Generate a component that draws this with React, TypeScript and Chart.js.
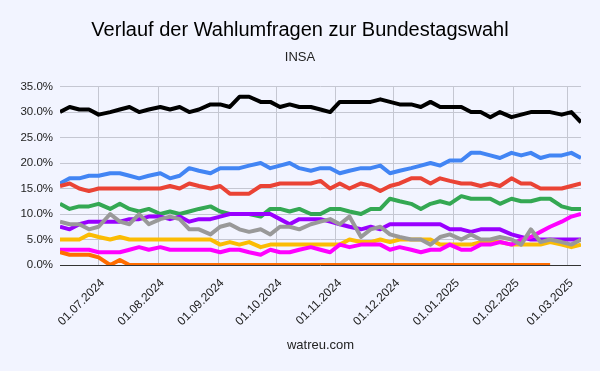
import { useEffect, useRef } from "react";
import { Chart, registerables } from "chart.js";

Chart.register(...registerables);

// Poll dates (INSA)
const pollDates = [
  "2024-06-11", "2024-06-16", "2024-06-21", "2024-06-26", "2024-07-01", "2024-07-07", "2024-07-12", "2024-07-17", "2024-07-22", "2024-07-27",
  "2024-08-02", "2024-08-07", "2024-08-12", "2024-08-17", "2024-08-22", "2024-08-28", "2024-09-02", "2024-09-07", "2024-09-12", "2024-09-17",
  "2024-09-23", "2024-09-28", "2024-10-03", "2024-10-08", "2024-10-13", "2024-10-19", "2024-10-24", "2024-10-29", "2024-11-03", "2024-11-08",
  "2024-11-14", "2024-11-19", "2024-11-24", "2024-11-29", "2024-12-04", "2024-12-10", "2024-12-15", "2024-12-20", "2024-12-25", "2024-12-30",
  "2025-01-05", "2025-01-10", "2025-01-15", "2025-01-20", "2025-01-25", "2025-01-31", "2025-02-05", "2025-02-10", "2025-02-15", "2025-02-20",
  "2025-02-26", "2025-03-03", "2025-03-08",
];

const cduCsu = [
  30, 31, 30.5, 30.5, 29.5, 30, 30.5, 31, 30, 30.5,
  31, 30.5, 31, 30, 30.5, 31.5, 31.5, 31, 33, 33,
  32, 32, 31, 31.5, 31, 31, 30.5, 30, 32, 32,
  32, 32, 32.5, 32, 31.5, 31.5, 31, 32, 31, 31,
  31, 30, 30, 29, 30, 29, 29.5, 30, 30, 30,
  29.5, 30, 28,
];
const afd = [
  16, 17, 17, 17.5, 17.5, 18, 18, 17.5, 17, 17.5,
  18, 17, 17.5, 19, 18.5, 18, 19, 19, 19, 19.5,
  20, 19, 19.5, 20, 19, 18.5, 19, 19, 18, 18.5,
  19, 19, 19.5, 18, 18.5, 19, 19.5, 20, 19.5, 20.5,
  20.5, 22, 22, 21.5, 21, 22, 21.5, 22, 21, 21.5,
  21.5, 22, 21,
];
const spd = [
  15.5, 16, 15, 14.5, 15, 15, 15, 15, 15, 15,
  15, 15.5, 15, 16, 15.5, 15, 15.5, 14, 14, 14,
  15.5, 15.5, 16, 16, 16, 16, 16.5, 15, 16, 15,
  16, 15.5, 14.5, 15.5, 16, 17, 17, 16, 17, 16.5,
  16, 16, 15.5, 16, 15.5, 17, 16, 16, 15, 15,
  15, 15.5, 16,
];
const gruene = [
  12, 11, 11.5, 11.5, 12, 11, 12, 11, 10.5, 11,
  10, 10.5, 10, 10.5, 11, 11.5, 10.5, 10, 10, 10,
  9.5, 11, 11, 10.5, 11, 10, 10, 11, 11, 10.5,
  10, 11, 11, 13, 12.5, 12, 11, 12, 12.5, 12,
  13.5, 13, 13, 13, 12, 13, 12.5, 12.5, 13, 13,
  11.5, 11, 11,
];
const bsw = [
  7.5, 7, 8, 8.5, 8.5, 8.5, 8.5, 9, 9, 9.5,
  9.5, 9, 9.5, 8.5, 9, 9, 9.5, 10, 10, 10,
  10, 10, 9, 8, 9, 9, 9, 8.5, 8, 7.5,
  7, 7.5, 7, 8, 8, 8, 8, 8, 8, 7,
  7, 6.5, 7, 7, 7, 6, 5.5, 5, 5, 5,
  5, 5, 5,
];
const fdp = [
  5, 5, 5, 6, 5.5, 5, 5.5, 5, 5, 5,
  5, 5, 5, 5, 5, 5, 4, 4.5, 4, 4.5,
  3.5, 4, 4, 4, 4, 4, 4, 4, 4, 5,
  4.5, 4.5, 5, 4.5, 5, 5, 5, 5, 4, 4,
  4, 4, 4.5, 4.5, 4.5, 4, 4, 4, 4, 4.5,
  4, 3.5, 4,
];
const linke = [
  3, 3, 3, 3, 2.5, 2.5, 2.5, 3, 3.5, 3,
  3.5, 3, 3, 3, 3, 3, 2.5, 3, 3, 2.5,
  2, 3, 2.5, 2.5, 3, 3.5, 3, 2.5, 4, 3.5,
  4, 4, 4, 3, 3.5, 3, 2.5, 3, 3, 4,
  3, 3, 4, 4, 4.5, 4, 5, 5.5, 6.5, 7.5,
  8.5, 9.5, 10,
];
const freieWaehler = [
  2.5, 2, 2, 2, 1.5, 0, 1, 0, 0, 0,
  0, 0, 0, 0, 0, 0, 0, 0, 0, 0,
  0, 0, 0, 0, 0, 0, 0, 0, 0, 0,
  0, 0, 0, 0, 0, 0, 0, 0, 0, 0,
  0, 0, 0, 0, 0, 0, 0, 0, 0, 0,
  null, null, null,
];
const sonstige = [
  8.5, 8, 8, 7, 7.5, 10, 8.5, 8, 10, 8,
  9, 9.5, 9, 7, 7, 6, 7.5, 8, 7, 6.5,
  7, 6, 7.5, 7.5, 7, 8, 8.5, 9, 8, 9.5,
  5.5, 7, 7.5, 6, 5.5, 5, 5, 4, 5.5, 6,
  5, 6, 5, 5, 5.5, 5, 4, 7, 4.5, 5,
  4.5, 4, 5,
];

const monthTicks = [
  "2024-07-01", "2024-08-01", "2024-09-01", "2024-10-01", "2024-11-01",
  "2024-12-01", "2025-01-01", "2025-02-01", "2025-03-01",
];
const yTicks = [0, 5, 10, 15, 20, 25, 30, 35];

const titleText = "Verlauf der Wahlumfragen zur Bundestagswahl";
const subtitleText = "INSA";
const sourceText = "watreu.com";

const FONT = "'Liberation Sans', Arial, Helvetica, sans-serif";
const GRID = "#c5c7d2";

function dayNumber(s: string): number {
  const [y, m, d] = s.split("-").map(Number);
  return Date.UTC(y, m - 1, d) / 86400000;
}
function formatDay(n: number): string {
  const dt = new Date(Math.round(n) * 86400000);
  const dd = String(dt.getUTCDate()).padStart(2, "0");
  const mm = String(dt.getUTCMonth() + 1).padStart(2, "0");
  return `${dd}.${mm}.${dt.getUTCFullYear()}`;
}

const seriesDefs = [
  { label: "Sonstige", values: sonstige, color: "#999999", order: 0 },
  { label: "Freie Wähler", values: freieWaehler, color: "#ff6d01", order: 1 },
  { label: "Die Linke", values: linke, color: "#ff00ff", order: 2 },
  { label: "FDP", values: fdp, color: "#fbbc04", order: 3 },
  { label: "BSW", values: bsw, color: "#9900ff", order: 4 },
  { label: "Grüne", values: gruene, color: "#34a853", order: 5 },
  { label: "SPD", values: spd, color: "#ea4335", order: 6 },
  { label: "AfD", values: afd, color: "#4285f4", order: 7 },
  { label: "CDU/CSU", values: cduCsu, color: "#000000", order: 8 },
];

export default function App() {
  const canvasRef = useRef<HTMLCanvasElement | null>(null);

  useEffect(() => {
    const canvas = canvasRef.current;
    if (!canvas) return;
    const xs = pollDates.map(dayNumber);
    const chart = new Chart(canvas, {
      type: "line",
      data: {
        datasets: seriesDefs.map((s) => ({
          label: s.label,
          data: s.values.map((v, i) => ({ x: xs[i], y: v })),
          borderColor: s.color,
          backgroundColor: s.color,
          borderWidth: 4,
          pointRadius: 0,
          tension: 0,
          fill: false,
          spanGaps: false,
          borderJoinStyle: "round",
          borderCapStyle: "butt",
          order: s.order,
          xAxisID: "x",
          yAxisID: "y",
        })),
      },
      options: {
        responsive: false,
        animation: false,
        devicePixelRatio: 1,
        layout: { padding: { top: 0, left: 0, right: 0, bottom: 18 } },
        plugins: {
          legend: { display: false },
          tooltip: { enabled: false },
          title: {
            display: true,
            text: titleText,
            color: "#000000",
            font: { family: FONT, size: 20, weight: "normal" },
            padding: { top: 18, bottom: 0 },
          },
          subtitle: {
            display: true,
            text: subtitleText,
            color: "#222222",
            font: { family: FONT, size: 13, weight: "normal" },
            padding: { top: 8, bottom: 21 },
          },
        },
        scales: {
          x: {
            type: "linear",
            bounds: "data",
            min: xs[0],
            max: xs[xs.length - 1],
            grid: { color: GRID, drawTicks: false, lineWidth: 1 },
            border: { display: false },
            ticks: {
              autoSkip: false,
              minRotation: 45,
              maxRotation: 45,
              padding: 11,
              labelOffset: 4,
              color: "#222222",
              font: { family: FONT, size: 12 },
              callback: (v: any) => formatDay(Number(v)),
            },
            afterBuildTicks: (scale: any) => {
              scale.ticks = monthTicks.map((d) => ({ value: dayNumber(d) }));
            },
            afterFit: (scale: any) => {
              scale.height = 88;
            },
            title: {
              display: true,
              text: sourceText,
              color: "#222222",
              font: { family: FONT, size: 13 },
              padding: 0,
            },
          },
          y: {
            min: 0,
            max: 35,
            grid: {
              drawTicks: false,
              lineWidth: 1,
              color: (ctx: any) => (ctx.tick && ctx.tick.value === 0 ? "#333333" : GRID),
            },
            border: { display: false },
            afterBuildTicks: (scale: any) => {
              scale.ticks = yTicks.map((v) => ({ value: v }));
            },
            ticks: {
              padding: 7,
              color: "#222222",
              font: { family: FONT, size: 11.5 },
              callback: (v: any) => Number(v).toFixed(1) + "%",
            },
            afterFit: (scale: any) => {
              scale.width = 60;
            },
          },
          rightSpace: {
            type: "linear",
            position: "right",
            display: true,
            grid: { display: false, drawTicks: false },
            border: { display: false },
            ticks: { display: false },
            afterFit: (scale: any) => {
              scale.width = 19;
            },
          },
        },
      },
    } as any);
    return () => chart.destroy();
  }, []);

  return (
    <div
      style={{
        position: "fixed",
        left: 0,
        top: 0,
        width: 600,
        height: 371,
        background: "#f2f4ff",
      }}
    >
      <canvas ref={canvasRef} width={600} height={371} style={{ display: "block" }} />
    </div>
  );
}
